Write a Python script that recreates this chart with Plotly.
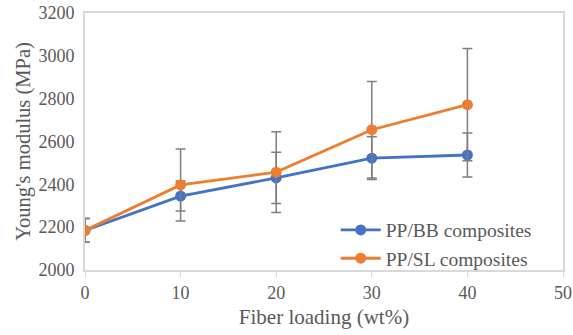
import plotly.graph_objects as go

fiber = [0, 10, 20, 30, 40]
bb_vals = [2185, 2345, 2430, 2522, 2537]
bb_err = [55, 70, 120, 100, 103]
sl_vals = [2185, 2397, 2457, 2655, 2772]
sl_err = [55, 168, 188, 225, 262]

font = "Times New Roman, Liberation Serif, DejaVu Serif, serif"
err_col = "#7f7f7f"
txt = "#595959"

fig = go.Figure()
fig.add_trace(go.Scatter(
    x=fiber, y=bb_vals, name="PP/BB composites", mode="lines+markers",
    line=dict(color="#4472c4", width=2.8), marker=dict(size=11, color="#4472c4"),
    error_y=dict(type="data", array=bb_err, visible=True, color=err_col, thickness=1.5, width=5)))
fig.add_trace(go.Scatter(
    x=fiber, y=sl_vals, name="PP/SL composites", mode="lines+markers",
    line=dict(color="#ed7d31", width=2.8), marker=dict(size=11, color="#ed7d31"),
    error_y=dict(type="data", array=sl_err, visible=True, color=err_col, thickness=1.5, width=5)))

fig.update_layout(
    width=573, height=335,
    margin=dict(l=85, r=10, t=13, b=65),
    paper_bgcolor="white", plot_bgcolor="white",
    font=dict(family=font, color=txt, size=18),
    showlegend=True,
    legend=dict(x=0.945, y=-0.03, xanchor="right", yanchor="bottom",
                font=dict(family=font, size=19.5, color=txt),
                bgcolor="rgba(255,255,255,0)", tracegroupgap=0, itemwidth=40),
    xaxis=dict(range=[0, 50], tickvals=[0, 10, 20, 30, 40, 50], showgrid=False, automargin=False,
               zeroline=False, showline=True, linecolor="#d9d9d9", linewidth=2, mirror=True,
               ticks="outside", ticklen=5, tickcolor="#d9d9d9", tickwidth=1,
               title=dict(text="Fiber loading (wt%)", font=dict(size=21, family=font, color=txt), standoff=8),
               tickfont=dict(size=18, family=font, color=txt)),
    yaxis=dict(range=[2000, 3200], tickvals=[2000, 2200, 2400, 2600, 2800, 3000, 3200], showgrid=False,
               automargin=False,
               zeroline=False, showline=True, linecolor="#d9d9d9", linewidth=2, mirror=True,
               ticks="outside", ticklen=5, tickcolor="rgba(0,0,0,0)",
               title=dict(text="Young's modulus (MPa)", font=dict(size=20.5, family=font, color=txt), standoff=2),
               tickfont=dict(size=18, family=font, color=txt)),
)

fig.write_html("out.html")
